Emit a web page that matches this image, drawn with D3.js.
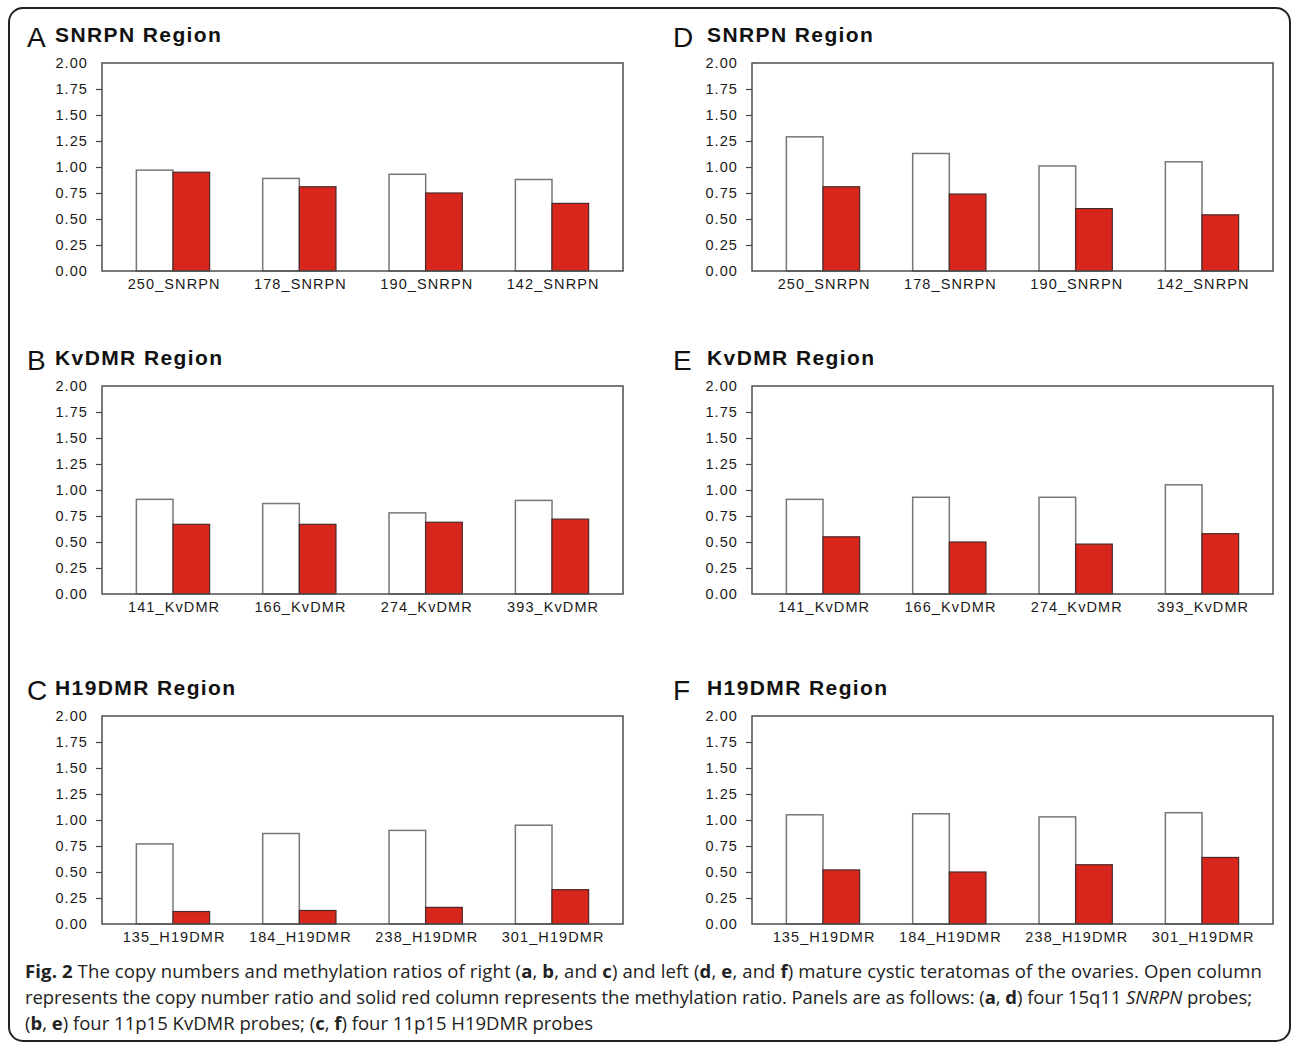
<!DOCTYPE html>
<html>
<head>
<meta charset="utf-8">
<script src="https://cdn.jsdelivr.net/npm/d3@7"></script>
<style>
  html, body { margin: 0; padding: 0; background: #fff; }
  svg { display: block; }
</style>
</head>
<body>
<script>
// probe names per region
const snrpnProbes = ['250_SNRPN', '178_SNRPN', '190_SNRPN', '142_SNRPN'];
const kvdmrProbes = ['141_KvDMR', '166_KvDMR', '274_KvDMR', '393_KvDMR'];
const h19Probes = ['135_H19DMR', '184_H19DMR', '238_H19DMR', '301_H19DMR'];

// copy number ratio (open) and methylation ratio (red)
const copyA = [0.97, 0.89, 0.93, 0.88];
const methA = [0.95, 0.81, 0.75, 0.65];
const copyB = [0.91, 0.87, 0.78, 0.90];
const methB = [0.67, 0.67, 0.69, 0.72];
const copyC = [0.77, 0.87, 0.90, 0.95];
const methC = [0.12, 0.13, 0.16, 0.33];
const copyD = [1.29, 1.13, 1.01, 1.05];
const methD = [0.81, 0.74, 0.60, 0.54];
const copyE = [0.91, 0.93, 0.93, 1.05];
const methE = [0.55, 0.50, 0.48, 0.58];
const copyF = [1.05, 1.06, 1.03, 1.07];
const methF = [0.52, 0.50, 0.57, 0.64];

const yTicks = [0, 0.25, 0.5, 0.75, 1, 1.25, 1.5, 1.75, 2];

const panels = [
  { letter: 'A', title: 'SNRPN Region', probes: snrpnProbes, copy: copyA, meth: methA, col: 0, row: 0 },
  { letter: 'B', title: 'KvDMR Region', probes: kvdmrProbes, copy: copyB, meth: methB, col: 0, row: 1 },
  { letter: 'C', title: 'H19DMR Region', probes: h19Probes, copy: copyC, meth: methC, col: 0, row: 2 },
  { letter: 'D', title: 'SNRPN Region', probes: snrpnProbes, copy: copyD, meth: methD, col: 1, row: 0 },
  { letter: 'E', title: 'KvDMR Region', probes: kvdmrProbes, copy: copyE, meth: methE, col: 1, row: 1 },
  { letter: 'F', title: 'H19DMR Region', probes: h19Probes, copy: copyF, meth: methF, col: 1, row: 2 }
];

var width = 1292, height = 1044;
var colLeft = [102, 752];
var rowTop = [63, 386, 716];
var plotW = 521, plotH = 208;
var letterX = [28, 674];
var titleX = [55, 707];
var red = '#d9261c';

var svg = d3.select('body').append('svg')
  .attr('width', width)
  .attr('height', height);

// outer frame
svg.append('rect')
  .attr('x', 9).attr('y', 8)
  .attr('width', 1281).attr('height', 1033)
  .attr('rx', 14)
  .attr('fill', 'none')
  .attr('stroke', '#222')
  .attr('stroke-width', 2);

panels.forEach(function (p) {
  var x0 = colLeft[p.col], y0 = rowTop[p.row];
  var g = svg.append('g').attr('transform', 'translate(' + x0 + ',' + y0 + ')');

  var x = d3.scalePoint().domain(p.probes).range([0, plotW]).padding(0.562);
  var y = d3.scaleLinear().domain([0, 2]).range([plotH, 0]);
  var bw = x.step() * 0.29;

  // title
  svg.append('text')
    .attr('x', letterX[p.col] - 1).attr('y', y0 - 16)
    .style('font-family', 'Liberation Sans, Arial, sans-serif')
    .style('font-size', '28px')
    .style('fill', '#111')
    .text(p.letter);
  svg.append('text')
    .attr('x', titleX[p.col]).attr('y', y0 - 21)
    .style('font-family', 'Liberation Sans, Arial, sans-serif')
    .style('font-weight', 'bold')
    .style('font-size', '21px')
    .style('letter-spacing', '1.4px')
    .style('fill', '#111')
    .text(p.title);

  // y axis
  var yAxis = g.append('g')
    .call(d3.axisLeft(y).tickValues(yTicks).tickFormat(d3.format('.2f')).tickSize(6).tickPadding(8));
  yAxis.select('.domain').remove();
  yAxis.selectAll('.tick line')
    .attr('stroke', '#444')
    .attr('stroke-width', 1.2)
    .style('display', d => (d === 0 || d === 2) ? 'none' : null);
  yAxis.selectAll('.tick text')
    .style('font-family', 'Liberation Sans, Arial, sans-serif')
    .style('font-size', '14.5px')
    .style('letter-spacing', '1.1px')
    .style('fill', '#1a1a1a');

  // bars
  var groups = g.selectAll('g.probe')
    .data(p.probes.map((d, i) => ({ probe: d, copy: p.copy[i], meth: p.meth[i] })))
    .join('g')
    .attr('class', 'probe');

  groups.append('rect')
    .attr('x', d => x(d.probe) - bw)
    .attr('y', d => y(d.copy))
    .attr('width', bw)
    .attr('height', d => plotH - y(d.copy))
    .attr('fill', '#fff')
    .attr('stroke', '#777')
    .attr('stroke-width', 1.5);

  groups.append('rect')
    .attr('x', d => x(d.probe))
    .attr('y', d => y(d.meth))
    .attr('width', bw)
    .attr('height', d => plotH - y(d.meth))
    .attr('fill', red)
    .attr('stroke', '#4a2a28')
    .attr('stroke-width', 1.2);

  // plot box
  g.append('rect')
    .attr('x', 0).attr('y', 0)
    .attr('width', plotW).attr('height', plotH)
    .attr('fill', 'none')
    .attr('stroke', '#4d4d4d')
    .attr('stroke-width', 1.5);

  // x labels
  var xAxis = g.append('g')
    .attr('transform', 'translate(0,' + plotH + ')')
    .call(d3.axisBottom(x).tickSize(0).tickPadding(8));
  xAxis.select('.domain').remove();
  xAxis.selectAll('.tick text')
    .attr('dx', '0.6px')
    .style('font-family', 'Liberation Sans, Arial, sans-serif')
    .style('font-size', '14.5px')
    .style('letter-spacing', '1.1px')
    .style('fill', '#1a1a1a');
});

// caption
var captionFont = 'Open Sans, Noto Sans, sans-serif';
var captionLines = [
  { y: 978, target: 1237, parts: [
    ['Fig. 2', 'bold'], [' The copy numbers and methylation ratios of right (', ''], ['a', 'bold'], [', ', ''], ['b', 'bold'],
    [', and ', ''], ['c', 'bold'], [') and left (', ''], ['d', 'bold'], [', ', ''], ['e', 'bold'], [', and ', ''], ['f', 'bold'],
    [') mature cystic teratomas of the ovaries. Open column', '']] },
  { y: 1004, target: 1227, parts: [
    ['represents the copy number ratio and solid red column represents the methylation ratio. Panels are as follows: (', ''],
    ['a', 'bold'], [', ', ''], ['d', 'bold'], [') four 15q11 ', ''], ['SNRPN', 'italic'], [' probes;', '']] },
  { y: 1030, target: 568, parts: [
    ['(', ''], ['b', 'bold'], [', ', ''], ['e', 'bold'], [') four 11p15 KvDMR probes; (', ''], ['c', 'bold'], [', ', ''],
    ['f', 'bold'], [') four 11p15 H19DMR probes', '']] }
];

captionLines.forEach(function (line) {
  var t = svg.append('text')
    .attr('x', 25).attr('y', line.y)
    .style('font-family', captionFont)
    .style('font-size', '18.5px')
    .style('fill', '#222');
  line.parts.forEach(function (part) {
    var ts = t.append('tspan').text(part[0]);
    if (part[1] === 'bold') ts.style('font-weight', 'bold');
    if (part[1] === 'italic') ts.style('font-style', 'italic');
  });
  var natural = t.node().getComputedTextLength();
  var nChars = line.parts.map(d => d[0]).join('').length;
  t.style('letter-spacing', ((line.target - natural) / nChars) + 'px');
});
</script>
</body>
</html>
